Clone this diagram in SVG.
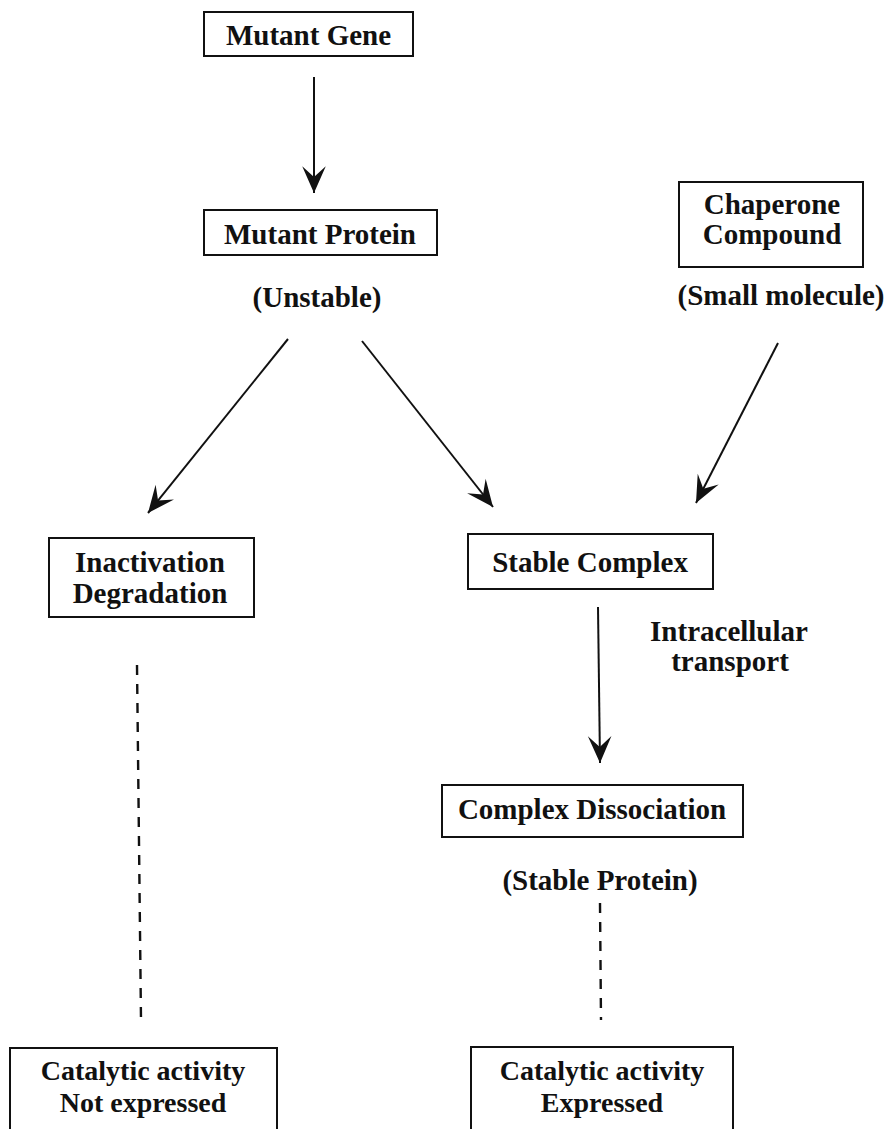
<svg xmlns="http://www.w3.org/2000/svg" width="896" height="1129" viewBox="0 0 896 1129">
<style>
.box{fill:#fff;stroke:#111;stroke-width:2}
.t{font-family:"Liberation Serif","Times New Roman",serif;font-weight:bold;font-size:29px;fill:#111;text-anchor:middle}
.s{font-size:28px}
.c{stroke:#111;stroke-width:2;fill:none}
.d{stroke:#111;stroke-width:2.4;fill:none;stroke-dasharray:10 9}
</style>
<defs>
<marker id="ah" markerUnits="userSpaceOnUse" markerWidth="30" markerHeight="30" viewBox="-26 -13 28 26" refX="0" refY="0" orient="auto">
<path d="M0,0 L-25,-11 L-15,0 L-25,11 Z" fill="#111"/>
</marker>
</defs>
<rect width="896" height="1129" fill="#fff"/>
<g id="connectors">
<line class="c" x1="314" y1="77" x2="314" y2="193" marker-end="url(#ah)"/>
<line class="c" x1="288" y1="339" x2="148" y2="513" marker-end="url(#ah)"/>
<line class="c" x1="362" y1="341" x2="493" y2="507" marker-end="url(#ah)"/>
<line class="c" x1="778" y1="343" x2="696" y2="503" marker-end="url(#ah)"/>
<line class="c" x1="598" y1="607" x2="600" y2="763" marker-end="url(#ah)"/>
<line class="d" x1="137" y1="665" x2="141" y2="1020"/>
<line class="d" x1="600" y1="903" x2="601" y2="1020"/>
<text class="t" x="729" y="641">Intracellular</text>
<text class="t" x="730" y="671">transport</text>
</g>
<g id="mutant-gene">
<rect class="box" x="204" y="12" width="209" height="44"/>
<text class="t" x="308.5" y="45">Mutant Gene</text>
</g>
<g id="mutant-protein">
<rect class="box" x="204" y="210" width="233" height="45"/>
<text class="t" x="320" y="244">Mutant Protein</text>
<text class="t" x="317" y="307">(Unstable)</text>
</g>
<g id="chaperone">
<rect class="box" x="679" y="182" width="184" height="85"/>
<text class="t" x="772" y="214">Chaperone</text>
<text class="t" x="772" y="244">Compound</text>
<text class="t" x="781" y="305">(Small molecule)</text>
</g>
<g id="inactivation">
<rect class="box" x="49" y="538" width="205" height="79"/>
<text class="t" x="150" y="572">Inactivation</text>
<text class="t" x="150" y="603">Degradation</text>
</g>
<g id="stable-complex">
<rect class="box" x="468" y="534" width="245" height="55"/>
<text class="t" x="590" y="572">Stable Complex</text>
</g>
<g id="complex-dissociation">
<rect class="box" x="442" y="785" width="301" height="52"/>
<text class="t" x="592" y="819">Complex Dissociation</text>
<text class="t" x="600" y="890">(Stable Protein)</text>
</g>
<g id="not-expressed">
<rect class="box" x="10" y="1048" width="267" height="100"/>
<text class="t s" x="143" y="1080">Catalytic activity</text>
<text class="t s" x="143" y="1112">Not expressed</text>
</g>
<g id="expressed">
<rect class="box" x="471" y="1047" width="262" height="100"/>
<text class="t s" x="602" y="1080">Catalytic activity</text>
<text class="t s" x="602" y="1112">Expressed</text>
</g>
</svg>
